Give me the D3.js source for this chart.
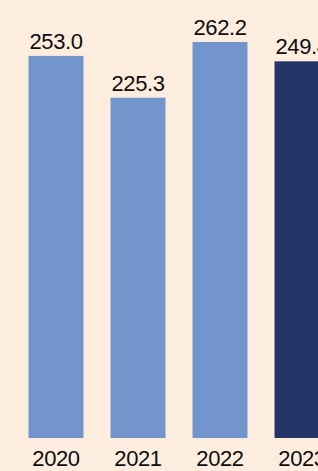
<!DOCTYPE html>
<html>
<head>
<meta charset="utf-8">
<script src="https://cdn.jsdelivr.net/npm/d3@7"></script>
<style>
  html, body { margin: 0; padding: 0; background: #fdeddf; overflow: hidden; }
  svg { display: block; }
  text { font-family: "Liberation Sans", Arial, sans-serif; fill: #0d0d0d; }
</style>
</head>
<body>
<svg id="chart"></svg>
<script>
// data
const years = ["2020", "2021", "2022", "2023"];
const values = [253.0, 225.3, 262.2, 249.4];
const valueLabels = ["253.0", "225.3", "262.2", "249.4"];
const barColors = ["#7295cc", "#7295cc", "#7295cc", "#243468"];

const width = 318, height = 471;
const baseY = 438;

const svg = d3.select("#chart")
    .attr("width", width)
    .attr("height", height);

svg.append("rect")
    .attr("width", width)
    .attr("height", height)
    .attr("fill", "#fdeddf");

const x = d3.scaleBand()
    .domain(years)
    .range([15, 343])
    .paddingInner(0.33)
    .paddingOuter(0.165);

const y = d3.scaleLinear()
    .domain([0, 290])
    .range([baseY, 0]);

// bars
svg.selectAll(".bar")
    .data(years)
    .enter()
    .append("rect")
    .attr("class", "bar")
    .attr("x", d => x(d))
    .attr("width", x.bandwidth())
    .attr("y", (d, i) => y(values[i]))
    .attr("height", (d, i) => baseY - y(values[i]))
    .attr("fill", (d, i) => barColors[i]);

// value labels above bars
svg.selectAll(".val")
    .data(years)
    .enter()
    .append("text")
    .attr("class", "val")
    .attr("x", d => x(d) + x.bandwidth() / 2)
    .attr("y", (d, i) => y(values[i]) - 7)
    .attr("text-anchor", "middle")
    .attr("font-size", 22)
    .attr("letter-spacing", -0.4)
    .text((d, i) => valueLabels[i]);

// category axis (no line, no ticks)
const xAxis = svg.append("g")
    .attr("transform", `translate(0,${baseY})`)
    .call(d3.axisBottom(x).tickSize(0));

xAxis.select(".domain").remove();
xAxis.selectAll("text")
    .attr("y", 28)
    .attr("dy", 0)
    .attr("font-size", 22)
    .attr("letter-spacing", -0.4)
    .attr("font-family", "Liberation Sans, Arial, sans-serif")
    .attr("fill", "#0d0d0d");
</script>
</body>
</html>
